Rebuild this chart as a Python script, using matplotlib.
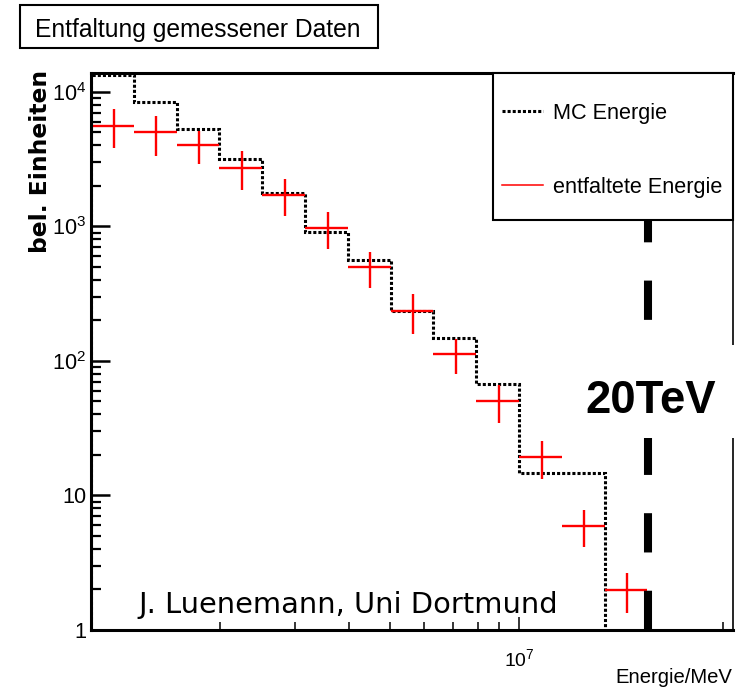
import numpy as np
import matplotlib
matplotlib.use("Agg")
import matplotlib.pyplot as plt
from matplotlib import font_manager as fm
from matplotlib.lines import Line2D
from matplotlib.patches import Rectangle
from matplotlib.ticker import LogLocator, NullFormatter

# ---- data -----------------------------------------------------------------
# energy bin edges in MeV (0.1 decade per bin)
bin_edges = [1.000e6, 1.259e6, 1.585e6, 1.995e6, 2.512e6, 3.162e6, 3.981e6,
             5.012e6, 6.310e6, 7.943e6, 1.000e7, 1.259e7, 1.585e7, 1.995e7]

# Monte Carlo truth spectrum (one value per bin, empty above 10^7.2 MeV)
mc_counts = [13400, 8330, 5280, 3160, 1770, 915, 564, 235, 148, 67.5, 14.6, 14.6]

# unfolded spectrum with its statistical errors
unfolded = [5610, 5010, 4010, 2735, 1714, 980, 497, 236, 113, 50.4, 19.2, 5.94, 1.98]
unfolded_err = [1790, 1650, 1120, 880, 518, 305, 148, 77, 33, 15.7, 6.0, 1.8, 0.65]

cut_energy = 2e7          # 20 TeV in MeV
cut_label = "20TeV"

x_range = (1.0e6, 3.162e7)
y_range = (1.0, 1.38e4)
y_major = [1, 10, 100, 1000, 10000]
y_major_labels = ["1", "10", r"$\mathdefault{10^{2}}$", r"$\mathdefault{10^{3}}$",
                  r"$\mathdefault{10^{4}}$"]
x_major = [1e7]
x_major_labels = [r"$\mathdefault{10^{7}}$"]

title = "Entfaltung gemessener Daten"
x_title = "Energie/MeV"
y_title = "bel. Einheiten"
legend_labels = ["MC Energie", "entfaltete Energie"]
credit = "J. Luenemann, Uni Dortmund"

# ---- fonts ----------------------------------------------------------------
installed = {f.name for f in fm.fontManager.ttflist}
NARROW = next((n for n in ["Liberation Sans Narrow", "Arial Narrow"] if n in installed), None)
if NARROW is None:
    NARROW, nscale = "Liberation Sans", 0.82
else:
    nscale = 1.0
plt.rcParams["font.family"] = [NARROW, "DejaVu Sans"]

W, H, DPI = 739, 694, 100
fig = plt.figure(figsize=(W / DPI, H / DPI), dpi=DPI)
fig.patch.set_facecolor("white")


def fx(px):
    return px / W


def fy(py):
    return 1 - py / H


ax = fig.add_axes([fx(91), fy(630), fx(733) - fx(91), fy(73) - fy(630)])
ax.set_xscale("log")
ax.set_yscale("log")
ax.set_xlim(*x_range)
ax.set_ylim(*y_range)

# MC histogram (dotted step line)
mc_edges = bin_edges[:len(mc_counts) + 1]
ax.stairs(mc_counts, mc_edges, baseline=y_range[0], color="black", lw=2.2,
          linestyle=(0, (1, 0.67)), zorder=1.5)

# unfolded points drawn as bin-wide crosses
edges = np.array(bin_edges)
lo, hi = edges[:-1], edges[1:]
xc = (lo + hi) / 2
ax.errorbar(xc, unfolded, xerr=[xc - lo, hi - xc], yerr=unfolded_err, fmt="none",
            ecolor="red", elinewidth=1.7, capsize=0, zorder=2)

# energy threshold
ax.axvline(cut_energy, color="black", lw=5.8, linestyle=(0, (4.875, 4.75)), zorder=2.4)

# axes frame
for side in ("left", "top", "bottom"):
    ax.spines[side].set_linewidth(2.2)
ax.spines["right"].set_linewidth(1.2)

ax.set_yticks(y_major, y_major_labels)
ax.set_xticks(x_major, x_major_labels)
ax.yaxis.set_minor_locator(LogLocator(base=10, subs=np.arange(2, 10) * 1.0, numticks=50))
ax.xaxis.set_minor_locator(LogLocator(base=10, subs=np.arange(2, 10) * 1.0, numticks=50))
ax.xaxis.set_minor_formatter(NullFormatter())
ax.yaxis.set_minor_formatter(NullFormatter())
ax.tick_params(axis="y", which="major", direction="in", length=13.5, width=1.8,
               pad=3.5, labelsize=19 * nscale, right=False)
ax.tick_params(axis="y", which="minor", direction="in", length=7.5, width=1.6, right=False)
ax.tick_params(axis="x", which="major", direction="in", length=9.5, width=1.1,
               pad=13, labelsize=17 * nscale, top=False)
ax.tick_params(axis="x", which="minor", direction="in", length=6, width=1.1, top=False)

# legend with its own box
lx0 = (493 - 91) / 642
ly0 = (630 - 220) / 557
ax.add_patch(Rectangle((lx0, ly0), 1 - lx0, 1 - ly0, transform=ax.transAxes,
                       facecolor="white", edgecolor="black", lw=1.5, zorder=2.6,
                       clip_on=False))
handles = [Line2D([], [], color="black", lw=2.2, linestyle=(0, (1, 0.67))),
           Line2D([], [], color="red", lw=1.1)]
leg = ax.legend(handles, legend_labels, loc="upper left",
                bbox_to_anchor=((502 - 91) / 642, (630 - 103) / 557),
                borderpad=0, borderaxespad=0, frameon=False, handlelength=1.9,
                handletextpad=0.46, labelspacing=2.44,
                prop={"family": NARROW, "size": 19 * nscale})
leg.set_zorder(5)

# title box
fig.add_artist(Rectangle((fx(19.5), fy(48)), fx(378) - fx(19.5), fy(5) - fy(48),
                         transform=fig.transFigure, fill=False, edgecolor="black", lw=1.5))
fig.text(fx(35), fy(37), title, ha="left", va="baseline", family=NARROW,
         size=21.6 * nscale)

# axis titles
fig.text(fx(41), fy(70), y_title, rotation=90, ha="center", va="top",
         family="DejaVu Sans", weight="bold", size=16.8)
fig.text(fx(732), fy(683), x_title, ha="right", va="baseline", family=NARROW,
         size=17.8 * nscale)

# threshold label on a white patch that hides the frame and the dashed line
fig.add_artist(Rectangle((fx(566), fy(438)), fx(739) - fx(566), fy(345) - fy(438),
                         transform=fig.transFigure, facecolor="white", edgecolor="none",
                         zorder=9))
fig.text(fx(585), fy(413), cut_label, ha="left", va="baseline", family="Liberation Sans",
         weight="bold", size=32.8, zorder=10)

fig.text(fx(138), fy(613), credit, ha="left", va="baseline", family="DejaVu Sans",
         size=20.8, zorder=10)

fig.savefig("out.png", dpi=DPI)
